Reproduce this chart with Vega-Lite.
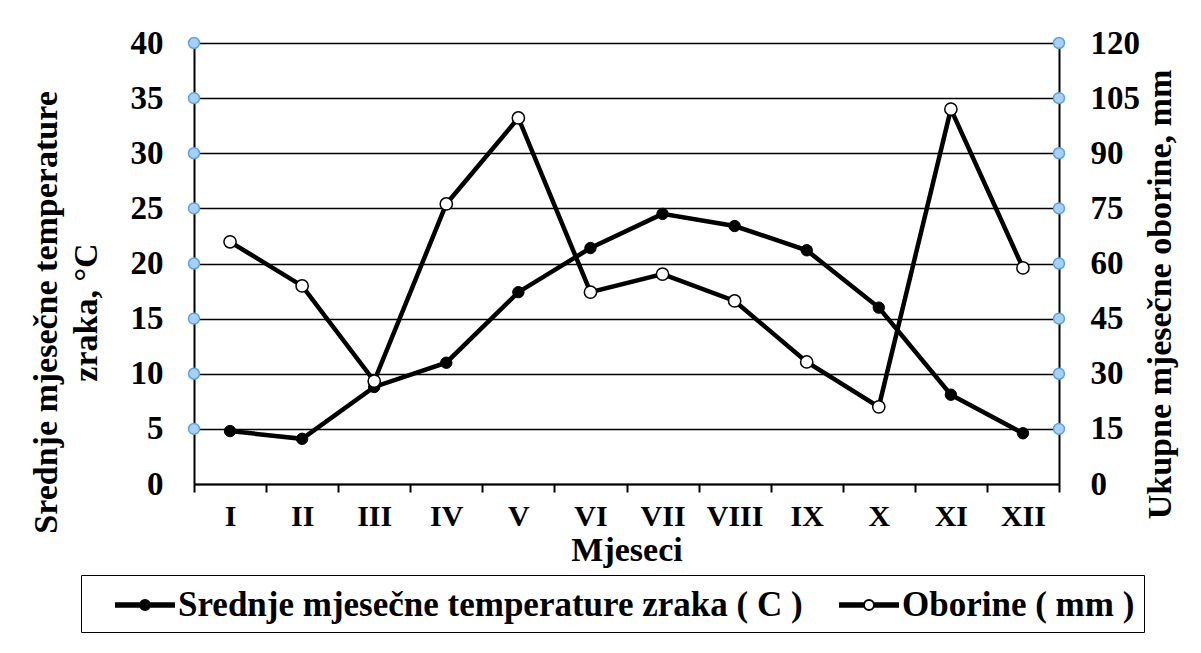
{
  "$schema": "https://vega.github.io/schema/vega-lite/v6.json",
  "width": 865,
  "height": 441,
  "autosize": {"type": "none"},
  "padding": {"left": 194, "top": 43, "right": 142, "bottom": 169},
  "background": "white",
  "datasets": {
    "climate": [
      {"month": "I", "m": 1, "series": "Srednje mjesečne temperature zraka ( C )", "value": 4.8},
      {"month": "II", "m": 2, "series": "Srednje mjesečne temperature zraka ( C )", "value": 4.1},
      {"month": "III", "m": 3, "series": "Srednje mjesečne temperature zraka ( C )", "value": 8.8},
      {"month": "IV", "m": 4, "series": "Srednje mjesečne temperature zraka ( C )", "value": 11.0},
      {"month": "V", "m": 5, "series": "Srednje mjesečne temperature zraka ( C )", "value": 17.4},
      {"month": "VI", "m": 6, "series": "Srednje mjesečne temperature zraka ( C )", "value": 21.4},
      {"month": "VII", "m": 7, "series": "Srednje mjesečne temperature zraka ( C )", "value": 24.5},
      {"month": "VIII", "m": 8, "series": "Srednje mjesečne temperature zraka ( C )", "value": 23.4},
      {"month": "IX", "m": 9, "series": "Srednje mjesečne temperature zraka ( C )", "value": 21.2},
      {"month": "X", "m": 10, "series": "Srednje mjesečne temperature zraka ( C )", "value": 16.0},
      {"month": "XI", "m": 11, "series": "Srednje mjesečne temperature zraka ( C )", "value": 8.1},
      {"month": "XII", "m": 12, "series": "Srednje mjesečne temperature zraka ( C )", "value": 4.6},
      {"month": "I", "m": 1, "series": "Oborine ( mm )", "value": 65.9},
      {"month": "II", "m": 2, "series": "Oborine ( mm )", "value": 53.9},
      {"month": "III", "m": 3, "series": "Oborine ( mm )", "value": 28.0},
      {"month": "IV", "m": 4, "series": "Oborine ( mm )", "value": 76.2},
      {"month": "V", "m": 5, "series": "Oborine ( mm )", "value": 99.6},
      {"month": "VI", "m": 6, "series": "Oborine ( mm )", "value": 52.2},
      {"month": "VII", "m": 7, "series": "Oborine ( mm )", "value": 57.1},
      {"month": "VIII", "m": 8, "series": "Oborine ( mm )", "value": 49.8},
      {"month": "IX", "m": 9, "series": "Oborine ( mm )", "value": 33.2},
      {"month": "X", "m": 10, "series": "Oborine ( mm )", "value": 21.0},
      {"month": "XI", "m": 11, "series": "Oborine ( mm )", "value": 102.0},
      {"month": "XII", "m": 12, "series": "Oborine ( mm )", "value": 58.8}
    ],
    "axisdots": [
      {"x": 0.5, "y": 5}, {"x": 0.5, "y": 10}, {"x": 0.5, "y": 15}, {"x": 0.5, "y": 20},
      {"x": 0.5, "y": 25}, {"x": 0.5, "y": 30}, {"x": 0.5, "y": 35}, {"x": 0.5, "y": 40},
      {"x": 12.5, "y": 5}, {"x": 12.5, "y": 10}, {"x": 12.5, "y": 15}, {"x": 12.5, "y": 20},
      {"x": 12.5, "y": 25}, {"x": 12.5, "y": 30}, {"x": 12.5, "y": 35}, {"x": 12.5, "y": 40}
    ]
  },
  "config": {
    "view": {"stroke": null},
    "font": "Liberation Serif",
    "axis": {
      "labelFont": "Liberation Serif",
      "titleFont": "Liberation Serif",
      "labelFontWeight": "bold",
      "titleFontWeight": "bold",
      "labelColor": "black",
      "titleColor": "black",
      "domainColor": "black",
      "tickColor": "black",
      "gridColor": "black",
      "gridOpacity": 1
    }
  },
  "layer": [
    {
      "layer": [
        {
          "data": {"name": "axisdots"},
          "mark": {"type": "point", "filled": true, "size": 120, "fill": "#a8d0f5", "stroke": "#5aa2e8", "strokeWidth": 1.5, "opacity": 1},
          "encoding": {
            "x": {
              "field": "x", "type": "quantitative",
              "scale": {"domain": [0.5, 12.5], "nice": false, "zero": false},
              "axis": {
                "orient": "bottom",
                "values": [1, 2, 3, 4, 5, 6, 7, 8, 9, 10, 11, 12],
                "labelExpr": "datum.value == 1 ? 'I' : datum.value == 2 ? 'II' : datum.value == 3 ? 'III' : datum.value == 4 ? 'IV' : datum.value == 5 ? 'V' : datum.value == 6 ? 'VI' : datum.value == 7 ? 'VII' : datum.value == 8 ? 'VIII' : datum.value == 9 ? 'IX' : datum.value == 10 ? 'X' : datum.value == 11 ? 'XI' : 'XII'",
                "ticks": false,
                "tickSize": 0,
                "domainWidth": 2,
                "grid": false,
                "labelFontSize": 30,
                "labelPadding": 17,
                "labelFlush": false,
                "labelOverlap": false,
                "title": "Mjeseci",
                "titleFontSize": 34,
                "titleBaseline": "alphabetic",
                "titleY": 76
              }
            },
            "y": {
              "field": "y", "type": "quantitative",
              "scale": {"domain": [0, 40], "nice": false},
              "axis": {
                "values": [0, 5, 10, 15, 20, 25, 30, 35, 40],
                "ticks": false,
                "tickSize": 0,
                "grid": true,
                "gridWidth": 1.5,
                "domainWidth": 2,
                "labelFontSize": 33,
                "labelPadding": 31,
                "labelFlush": false,
                "title": ["Srednje mjesečne temperature", "zraka, °C"],
                "titleFontSize": 34,
                "titleLineHeight": 40,
                "titleAngle": -90,
                "titleAlign": "center",
                "titleBaseline": "middle",
                "titleX": -148,
                "titleY": 269
              }
            }
          }
        },
        {
          "data": {"name": "climate"},
          "transform": [{"filter": {"field": "series", "equal": "Srednje mjesečne temperature zraka ( C )"}}],
          "mark": {"type": "line", "color": "black", "strokeWidth": 4.5},
          "encoding": {
            "x": {"field": "m", "type": "quantitative"},
            "y": {"field": "value", "type": "quantitative"}
          }
        },
        {
          "data": {"name": "climate"},
          "transform": [{"filter": {"field": "series", "equal": "Srednje mjesečne temperature zraka ( C )"}}],
          "mark": {"type": "point", "filled": true, "size": 130, "stroke": "black", "strokeWidth": 1, "opacity": 1},
          "encoding": {
            "x": {"field": "m", "type": "quantitative"},
            "y": {"field": "value", "type": "quantitative"},
            "fill": {
              "field": "series", "type": "nominal",
              "scale": {"domain": ["Srednje mjesečne temperature zraka ( C )", "Oborine ( mm )"], "range": ["black", "white"]},
              "legend": {
                "orient": "none",
                "legendX": -113,
                "legendY": 532,
                "direction": "horizontal",
                "title": null,
                "symbolType": "M-1.5,-0.09H-0.25M-1.5,0H-0.25M-1.5,0.09H-0.25M0.25,-0.09H1.5M0.25,0H1.5M0.25,0.09H1.5M-0.25,0A0.25,0.25 0 1,1 0.25,0A0.25,0.25 0 1,1 -0.25,0Z",
                "symbolSize": 1600,
                "symbolStrokeColor": "black",
                "symbolStrokeWidth": 2,
                "symbolOffset": 34,
                "labelOffset": 12,
                "labelFont": "Liberation Serif",
                "labelFontSize": 35,
                "labelFontWeight": "bold",
                "labelColor": "black",
                "labelLimit": 1000,
                "columnPadding": 11,
                "padding": 9,
                "strokeColor": "black",
                "fillColor": "white",
                "encode": {"legend": {"update": {"strokeWidth": {"value": 2.5}}}}
              }
            }
          }
        }
      ]
    },
    {
      "layer": [
        {
          "data": {"name": "climate"},
          "transform": [{"filter": {"field": "series", "equal": "Oborine ( mm )"}}],
          "mark": {"type": "line", "color": "black", "strokeWidth": 4.5},
          "encoding": {
            "x": {
              "field": "m", "type": "quantitative",
              "axis": {
                "orient": "bottom",
                "values": [0.5, 1.5, 2.5, 3.5, 4.5, 5.5, 6.5, 7.5, 8.5, 9.5, 10.5, 11.5, 12.5],
                "labels": false,
                "ticks": true,
                "tickSize": 8,
                "tickWidth": 2,
                "domain": false,
                "grid": false,
                "title": null
              }
            },
            "y": {
              "field": "value", "type": "quantitative",
              "scale": {"domain": [0, 120], "nice": false},
              "axis": {
                "orient": "right",
                "values": [0, 15, 30, 45, 60, 75, 90, 105, 120],
                "ticks": false,
                "tickSize": 0,
                "grid": false,
                "domainWidth": 2,
                "labelFontSize": 33,
                "labelPadding": 31,
                "labelFlush": false,
                "title": "Ukupne mjesečne oborine, mm",
                "titleFontSize": 34,
                "titleAngle": -90,
                "titleAlign": "center",
                "titleBaseline": "middle",
                "titleX": 101,
                "titleY": 251
              }
            }
          }
        },
        {
          "data": {"name": "climate"},
          "transform": [{"filter": {"field": "series", "equal": "Oborine ( mm )"}}],
          "mark": {"type": "point", "filled": true, "size": 150, "stroke": "black", "strokeWidth": 1.5, "opacity": 1},
          "encoding": {
            "x": {"field": "m", "type": "quantitative"},
            "y": {"field": "value", "type": "quantitative"},
            "fill": {"field": "series", "type": "nominal"}
          }
        }
      ]
    }
  ],
  "resolve": {"scale": {"y": "independent"}, "axis": {"x": "independent"}}
}
